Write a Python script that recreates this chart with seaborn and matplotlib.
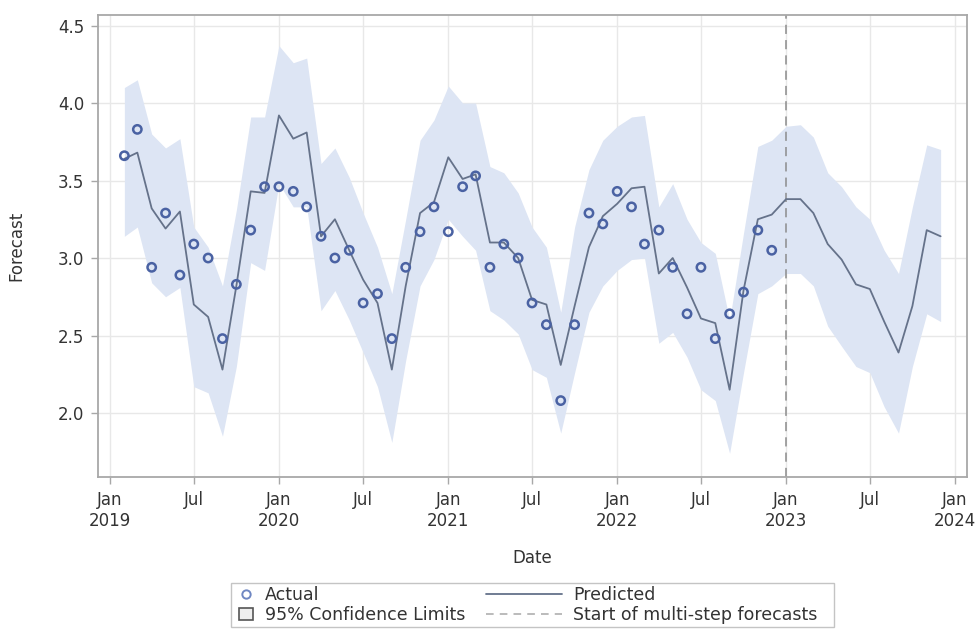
import pandas as pd
import seaborn as sns
import matplotlib.pyplot as plt
from matplotlib.lines import Line2D
from matplotlib.patches import Patch, Rectangle

# monthly series, first month = Feb 2019
first_month = "2019-02-01"
forecast_start = "2023-01-01"

actual = [3.66, 3.83, 2.94, 3.29, 2.89, 3.09, 3.00, 2.48, 2.83, 3.18, 3.46,
          3.46, 3.43, 3.33, 3.14, 3.00, 3.05, 2.71, 2.77, 2.48, 2.94, 3.17, 3.33,
          3.17, 3.46, 3.53, 2.94, 3.09, 3.00, 2.71, 2.57, 2.08, 2.57, 3.29, 3.22,
          3.43, 3.33, 3.09, 3.18, 2.94, 2.64, 2.94, 2.48, 2.64, 2.78, 3.18, 3.05]

predicted = [3.64, 3.68, 3.32, 3.19, 3.30, 2.70, 2.62, 2.28, 2.82, 3.43, 3.42,
             3.92, 3.77, 3.81, 3.14, 3.25, 3.05, 2.86, 2.71, 2.28, 2.82, 3.29, 3.36,
             3.65, 3.51, 3.54, 3.10, 3.10, 3.00, 2.73, 2.70, 2.31, 2.69, 3.07, 3.27,
             3.35, 3.45, 3.46, 2.90, 3.00, 2.81, 2.61, 2.58, 2.15, 2.79, 3.25, 3.28,
             3.38, 3.38, 3.29, 3.09, 2.99, 2.83, 2.80, 2.59, 2.39, 2.69, 3.18, 3.14]

upper = [4.10, 4.15, 3.80, 3.71, 3.77, 3.20, 3.07, 2.82, 3.31, 3.91, 3.91,
         4.37, 4.26, 4.29, 3.61, 3.71, 3.52, 3.29, 3.07, 2.77, 3.25, 3.76, 3.89,
         4.11, 4.00, 4.00, 3.59, 3.55, 3.42, 3.20, 3.07, 2.65, 3.20, 3.57, 3.76,
         3.85, 3.91, 3.92, 3.33, 3.48, 3.25, 3.10, 3.03, 2.60, 3.16, 3.72, 3.76,
         3.85, 3.86, 3.78, 3.55, 3.46, 3.33, 3.25, 3.05, 2.90, 3.33, 3.73, 3.70]

lower = [3.14, 3.20, 2.84, 2.75, 2.81, 2.17, 2.13, 1.85, 2.30, 2.97, 2.92,
         3.48, 3.33, 3.33, 2.66, 2.79, 2.60, 2.39, 2.17, 1.81, 2.34, 2.82, 2.99,
         3.25, 3.14, 3.05, 2.66, 2.60, 2.51, 2.28, 2.23, 1.87, 2.26, 2.65, 2.82,
         2.92, 2.99, 3.00, 2.45, 2.52, 2.36, 2.15, 2.08, 1.74, 2.26, 2.77, 2.82,
         2.90, 2.90, 2.82, 2.56, 2.43, 2.30, 2.26, 2.04, 1.87, 2.30, 2.64, 2.59]

tick_dates = ["2019-01-01", "2019-07-01", "2020-01-01", "2020-07-01", "2021-01-01",
              "2021-07-01", "2022-01-01", "2022-07-01", "2023-01-01", "2023-07-01",
              "2024-01-01"]
tick_labels = ["Jan\n2019", "Jul", "Jan\n2020", "Jul", "Jan\n2021", "Jul",
               "Jan\n2022", "Jul", "Jan\n2023", "Jul", "Jan\n2024"]
y_ticks = [2.0, 2.5, 3.0, 3.5, 4.0, 4.5]

months = pd.date_range(first_month, periods=len(predicted), freq="MS")
df_fc = pd.DataFrame({"Date": months, "Predicted": predicted,
                      "Lower": lower, "Upper": upper})
df_act = pd.DataFrame({"Date": months[:len(actual)], "Actual": actual})

band_color = "#dde5f4"
line_color = "#65728a"
marker_color = "#4a62a3"
frame_color = "#a8a8a8"

sns.set_theme(style="whitegrid")
plt.rcParams["font.family"] = ["DejaVu Sans"]

fig = plt.figure(figsize=(9.75, 6.29), dpi=100)
ax = fig.add_axes([98 / 975, 1 - 477 / 629, 869 / 975, 462 / 629])

ax.fill_between(df_fc["Date"], df_fc["Lower"], df_fc["Upper"],
                color=band_color, lw=0, zorder=1)
ax.axvline(pd.Timestamp(forecast_start), color="#8c8c8c", lw=1.1,
           ls=(0, (6, 4)), zorder=2)
sns.lineplot(data=df_fc, x="Date", y="Predicted", color=line_color,
             lw=1.3, ax=ax, zorder=3)
sns.scatterplot(data=df_act, x="Date", y="Actual", marker="o", s=36,
                color="none", edgecolor=marker_color, linewidth=1.8,
                ax=ax, zorder=4)

ax.set_xlim(pd.Timestamp("2018-12-06"), pd.Timestamp("2024-01-27"))
ax.set_ylim(1.587, 4.568)
ax.set_xticks(pd.to_datetime(tick_dates))
ax.set_xticklabels(tick_labels)
ax.set_yticks(y_ticks)
ax.set_yticklabels([f"{v:.1f}" for v in y_ticks])

ax.grid(True, color="#e8e8e8", lw=1)
for sp in ax.spines.values():
    sp.set_visible(True)
    sp.set_color(frame_color)
    sp.set_linewidth(1.3)
ax.tick_params(axis="both", bottom=True, left=True, direction="out",
               length=5, width=1, color=frame_color, pad=5,
               labelsize=12, labelcolor="#333333")

ax.set_xlabel("Date", fontsize=12, color="#333333")
ax.set_ylabel("Forecast", fontsize=12, color="#333333")
ax.xaxis.set_label_coords(0.5, -0.156)
ax.yaxis.set_label_coords(-0.083, 0.5)

# legend: two blocks inside one frame
h1 = [Line2D([], [], ls="none", marker="o", ms=6, mfc="none",
             mec="#6f87c2", mew=1.4),
      Patch(facecolor="#eeeeee", edgecolor="#555555", lw=1.2)]
h2 = [Line2D([], [], color=line_color, lw=1.3),
      Line2D([], [], color="#a8a8a8", lw=1.1, ls=(0, (5, 4)))]
fig.legend(h1, ["Actual", "95% Confidence Limits"], loc="upper left",
           bbox_to_anchor=(239 / 975, 1 - 586 / 629), frameon=False,
           borderpad=0, borderaxespad=0, handlelength=0.8,
           handletextpad=0.7, labelspacing=0.12, fontsize=12.5,
           labelcolor="#333333")
fig.legend(h2, ["Predicted", "Start of multi-step forecasts"],
           loc="upper left", bbox_to_anchor=(486 / 975, 1 - 586 / 629),
           frameon=False, borderpad=0, borderaxespad=0,
           handlelength=4.4, handletextpad=0.63, labelspacing=0.12,
           fontsize=12.5, labelcolor="#333333")
fig.patches.append(Rectangle((231 / 975, 1 - 627 / 629), 603 / 975, 44 / 629,
                             transform=fig.transFigure, fill=False,
                             edgecolor="#c4c4c4", lw=1))

fig.savefig("out.png", dpi=100)
